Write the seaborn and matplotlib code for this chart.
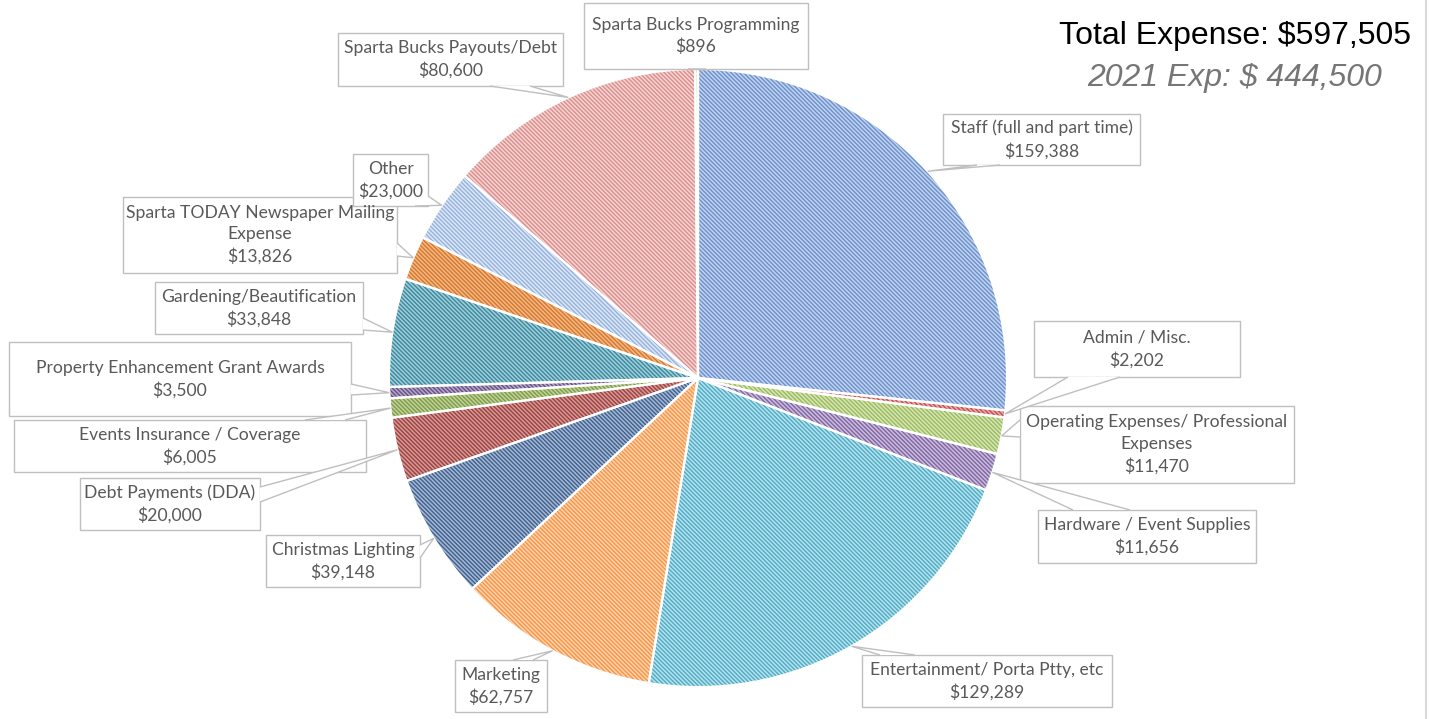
import matplotlib
matplotlib.use("Agg")
import matplotlib.pyplot as plt
import seaborn as sns
import numpy as np
from matplotlib.patches import Rectangle, Polygon
from matplotlib.lines import Line2D

# ---------------- data ----------------
categories = [
    "Staff (full and part time)", "Admin / Misc.",
    "Operating Expenses/ Professional\nExpenses", "Hardware / Event Supplies",
    "Entertainment/ Porta Ptty, etc", "Marketing", "Christmas Lighting",
    "Debt Payments (DDA)", "Events Insurance / Coverage",
    "Property Enhancement Grant Awards", "Gardening/Beautification",
    "Sparta TODAY Newspaper Mailing\nExpense", "Other",
    "Sparta Bucks Payouts/Debt", "Sparta Bucks Programming",
]
values = [159388, 2202, 11470, 11656, 129289, 62757, 39148, 20000, 6005,
          3500, 33848, 13826, 23000, 80600, 896]
title_total = "Total Expense: $597,505"
title_prev = "2021 Exp: $ 444,500"

# ---------------- styles ----------------
face_colors = ["#C3D3EE", "#E8ABA9", "#D6E5BA", "#CBBEDD", "#B9E1EC", "#FCD2AE",
               "#A7B7CF", "#D49B99", "#BFD29A", "#B5A7C8", "#A2CEDA", "#F2B886",
               "#DDE7F5", "#F4D4D3", "#E4EED2"]
hatch_colors = ["#6A90CD", "#C0504D", "#9BBB59", "#8064A2", "#4BACC6", "#F79646",
                "#3C6091", "#9D403D", "#7F9B46", "#664F85", "#3A889E", "#D7772B",
                "#94B2DD", "#DA8E8C", "#B6CE89"]

# label box layout in image pixels: (left, top, right, bottom), pointer base pts
box_layout = [
    ((943, 114, 1140, 165), ((977, 165), (1000, 165))),
    ((1034, 321, 1240, 377), ((1068, 377), (1120, 377))),
    ((1020, 406, 1294, 483), ((1020, 420), (1020, 437))),
    ((1038, 510, 1256, 563), ((1073, 510), (1130, 510))),
    ((862, 655, 1112, 707), ((880, 655), (915, 655))),
    ((455, 660, 547, 712), ((513, 660), (533, 660))),
    ((266, 535, 420, 587), ((420, 545), (420, 558))),
    ((80, 478, 260, 530), ((260, 487), (260, 502))),
    ((14, 420, 366, 472), ((305, 420), (345, 420))),
    ((9, 342, 351, 416), ((351, 384), (351, 395))),
    ((155, 282, 363, 334), ((363, 318), (363, 330))),
    ((123, 197, 397, 273), ((397, 243), (397, 256))),
    ((353, 154, 428, 206), ((415, 206), (428, 196))),
    ((338, 33, 563, 86), ((490, 86), (530, 86))),
    ((584, 3, 808, 69), ((688, 69), (706, 69))),
]

W, H = 1430, 719
sns.set_theme(style="white")
plt.rcParams["font.family"] = ["Lato", "DejaVu Sans"]
plt.rcParams["hatch.linewidth"] = 1.0

fig = plt.figure(figsize=(W / 100, H / 100), dpi=100)
fig.patch.set_facecolor("white")

cx, cy, R = 698, 378, 310
ax = fig.add_axes([(cx - R) / W, (H - cy - R) / H, 2 * R / W, 2 * R / H])
ax.axis("off")

# hatched fill
wedges, _ = ax.pie(values, startangle=90, counterclock=False, radius=0.997,
                   colors=face_colors, wedgeprops=dict(linewidth=0))
for w, hc in zip(wedges, hatch_colors):
    w.set_edgecolor(hc)
    w.set_hatch("\\" * 8)
    w.set_linewidth(0)
# white separators
ax.pie(values, startangle=90, counterclock=False, radius=0.997,
       colors=["none"] * len(values),
       wedgeprops=dict(linewidth=1.6, edgecolor="white", fill=False))
ax.set_xlim(-1, 1)
ax.set_ylim(-1, 1)
ax.set_aspect("auto")


def px(x, y):
    return (x / W, 1 - y / H)


grey = "#BFBFBF"
txt_col = "#595959"
fig.canvas.draw()
inv = fig.transFigure.inverted()
for w, lab, val, (box, bases) in zip(wedges, categories, values, box_layout):
    ang = np.deg2rad((w.theta1 + w.theta2) / 2)
    tip_disp = ax.transData.transform((0.997 * np.cos(ang), 0.997 * np.sin(ang)))
    tip = inv.transform(tip_disp)
    l, t, r, b = box
    x0, y0 = px(l, b)
    x1, y1 = px(r, t)
    fig.add_artist(Rectangle((x0, y0), x1 - x0, y1 - y0, transform=fig.transFigure,
                             facecolor="white", edgecolor=grey, linewidth=1.0,
                             zorder=5))
    p1 = px(*bases[0])
    p2 = px(*bases[1])
    fig.add_artist(Polygon([p1, tip, p2], closed=False, transform=fig.transFigure,
                           facecolor="white", edgecolor=grey, linewidth=1.0,
                           zorder=6))
    fig.text((x0 + x1) / 2, (y0 + y1) / 2, f"{lab}\n${val:,}", ha="center",
             va="center", fontsize=12.6, color=txt_col, linespacing=1.42,
             zorder=7)

# titles
fig.text(1235 / W, 1 - 36 / H, title_total, ha="center", va="center",
         fontsize=23, color="black", family=["Liberation Sans", "DejaVu Sans"])
fig.text(1235 / W, 1 - 78 / H, title_prev, ha="center", va="center",
         fontsize=23, color="#767676", style="italic",
         family=["Liberation Sans", "DejaVu Sans"])

# right frame line
fig.add_artist(Line2D([1426 / W, 1426 / W], [0, 1], transform=fig.transFigure,
                      color="#D9D9D9", linewidth=1.5))

fig.savefig("out.png", dpi=100, facecolor="white")
